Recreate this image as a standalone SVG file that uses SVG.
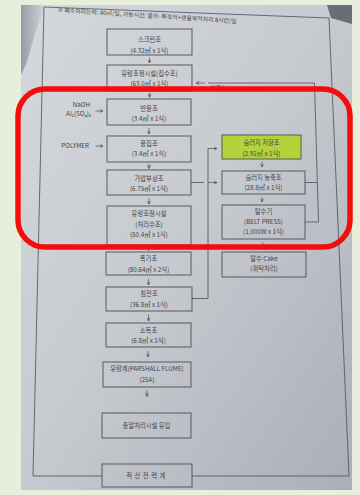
<svg xmlns="http://www.w3.org/2000/svg" width="360" height="495" viewBox="0 0 360 495">
<defs>
<linearGradient id="paper" x1="0" y1="0" x2="1" y2="1">
<stop offset="0" stop-color="#d5d8db"/>
<stop offset="0.5" stop-color="#c6c9ce"/>
<stop offset="1" stop-color="#a9afb8"/>
</linearGradient>
<linearGradient id="shade" x1="0" y1="0" x2="1" y2="0">
<stop offset="0" stop-color="#7f838a" stop-opacity="0.7"/>
<stop offset="1" stop-color="#7f838a" stop-opacity="0"/>
</linearGradient>
<marker id="ah" markerUnits="userSpaceOnUse" markerWidth="4" markerHeight="4" refX="3.5" refY="2" orient="auto">
<path d="M0,0.4 L3.5,2 L0,3.6" fill="none" stroke="#4b4e56" stroke-width="0.7"/>
</marker>
<style>
.b{fill:none;stroke:#4b4e56;stroke-width:0.9}
.g{fill:#b6d23a;stroke:#4b4e56;stroke-width:0.9}
.t{font-family:"Noto Sans CJK KR","Noto Sans",sans-serif;font-size:6.3px;fill:#41444c;text-anchor:middle}
.l{font-family:"Noto Sans CJK KR","Noto Sans",sans-serif;font-size:6.3px;fill:#41444c;text-anchor:end}
.c{fill:none;stroke:#4b4e56;stroke-width:0.8}
.a{fill:none;stroke:#4b4e56;stroke-width:0.7;marker-end:url(#ah)}
</style>
</defs>
<rect x="0" y="0" width="360" height="495" fill="#e8eedc"/>
<rect x="21" y="5" width="331" height="485" fill="url(#paper)"/>
<polygon points="21,5 46,5 36,30 27,62 21,75" fill="url(#shade)"/>
<polygon points="327,5 352,5 352,24 331,18" fill="#6a6d73"/>

<path class="c" d="M102,476 L33,476 L44,7 L329,18 L349,476 L192,476"/>
<text x="57" y="12" transform="rotate(3.6 57 12)" style="font-family:'Noto Sans CJK KR','Noto Sans',sans-serif;font-size:5.9px;fill:#41444c">※ 폐수처리능력: 40㎥/일, 가동시간: 물리·화학적+생물학적처리 8시간/일</text>

<g id="connectors">
<line class="a" x1="149.5" y1="57.5" x2="149.5" y2="63"/>
<line class="a" x1="149.5" y1="92.5" x2="149.5" y2="97.5"/>
<line class="a" x1="149" y1="128" x2="149" y2="134"/>
<line class="a" x1="149" y1="164" x2="149" y2="168.5"/>
<line class="a" x1="149" y1="198" x2="149" y2="204"/>
<line class="a" x1="148.5" y1="245.5" x2="148.5" y2="250.5"/>
<line class="a" x1="148.5" y1="279" x2="148.5" y2="285"/>
<line class="a" x1="148.5" y1="314.5" x2="148.5" y2="321"/>
<line class="a" x1="148" y1="351" x2="148" y2="357"/>
<line class="a" x1="147" y1="390.5" x2="147" y2="396.5"/>
<line class="a" x1="262" y1="161.5" x2="262" y2="167"/>
<line class="a" x1="262" y1="197" x2="262" y2="202"/>
<line class="a" x1="263" y1="242.5" x2="263" y2="248"/>
<line class="a" x1="95.5" y1="111" x2="103" y2="111"/>
<line class="a" x1="95.5" y1="146" x2="103" y2="146"/>
<polyline class="c" points="191,182.5 204,182.5"/>
<line class="a" x1="208" y1="182.5" x2="217" y2="182.5"/>
<polyline class="c" points="192,298.5 208,298.5 208,148.5"/>
<line class="a" x1="208" y1="148.5" x2="217" y2="148.5"/>
<polyline class="c" points="305,182.5 317,182.5"/>
<polyline class="c" points="305,222 318.5,222 314.5,83 208,83"/>
<line class="a" x1="205" y1="83" x2="196" y2="83"/>
<text x="210" y="90" style="font-family:'Noto Sans CJK KR','Noto Sans',sans-serif;font-size:6px;fill:#41444c">반류수</text>
</g>

<g id="n1"><rect class="b" x="107" y="29" width="85" height="26"/><text class="t" x="149.5" y="41.5">스크린조</text><text class="t" x="149.5" y="52.5">(4.32㎥ x 1식)</text></g>
<g id="n2"><rect class="b" x="107" y="65" width="85" height="26"/><text class="t" x="149.5" y="75.5">유량조정시설(집수조)</text><text class="t" x="149.5" y="86">(63.0㎥ x 1식)</text></g>
<g id="n3"><rect class="b" x="107" y="99" width="84" height="26"/><text class="t" x="149" y="110.5">반응조</text><text class="t" x="149" y="121">(3.4㎥ x 1식)</text></g>
<g id="l1"><text class="l" x="90" y="107">NaOH</text><text class="l" x="91" y="116">Al₂(SO₄)₃</text></g>
<g id="n4"><rect class="b" x="107" y="136" width="84" height="26"/><text class="t" x="149" y="145.5">응집조</text><text class="t" x="149" y="156">(3.4㎥ x 1식)</text></g>
<g id="l2"><text class="l" x="89" y="147.5">POLYMER</text></g>
<g id="n5"><rect class="b" x="107" y="170" width="84" height="25"/><text class="t" x="149" y="180.5">가압부상조</text><text class="t" x="149" y="190.5">(6.75㎥ x 1식)</text></g>
<g id="n6"><rect class="b" x="107" y="206" width="84" height="39"/><text class="t" x="149" y="215.5">유량조정시설</text><text class="t" x="149" y="226.5">(처리수조)</text><text class="t" x="149" y="237">(50.4㎥ x 1식)</text></g>
<g id="n7"><rect class="b" x="106" y="252" width="85" height="23"/><text class="t" x="148.5" y="261">폭기조</text><text class="t" x="148.5" y="271.5">(80.64㎥ x 2식)</text></g>
<g id="n8"><rect class="b" x="106" y="287" width="86" height="24"/><text class="t" x="149" y="296">침전조</text><text class="t" x="149" y="306.5">(36.8㎥ x 1식)</text></g>
<g id="n9"><rect class="b" x="106" y="323" width="85" height="24"/><text class="t" x="148.5" y="332.5">소독조</text><text class="t" x="148.5" y="343">(6.8㎥ x 1식)</text></g>
<g id="n10"><rect class="b" x="103" y="362" width="88" height="25"/><text class="t" x="147" y="371">유량계(PARSHALL FLUME)</text><text class="t" x="147" y="381.5">(25A)</text></g>
<g id="n11"><rect class="b" x="102" y="413" width="89" height="25"/><text class="t" x="146.5" y="427.5">종말처리시설 유입</text></g>
<g id="n12"><rect class="b" x="102" y="464" width="90" height="23"/><text class="t" x="147" y="478" style="letter-spacing:2.5px">적산전력계</text></g>

<g id="r1"><rect class="g" x="222" y="135" width="79" height="24"/><text class="t" x="261.5" y="145">슬러지 저장조</text><text class="t" x="261.5" y="155.5">(2.92㎥ x 1식)</text></g>
<g id="r2"><rect class="b" x="222" y="171" width="83" height="23"/><text class="t" x="263.5" y="179.5">슬러지 농축조</text><text class="t" x="263.5" y="190">(28.8㎥ x 1식)</text></g>
<g id="r3"><rect class="b" x="222" y="205" width="83" height="34"/><text class="t" x="263.5" y="213.5">탈수기</text><text class="t" x="263.5" y="223.5">(BELT PRESS)</text><text class="t" x="263.5" y="234">(1,000W x 1식)</text></g>
<g id="r4"><rect class="b" x="222" y="252" width="84" height="25"/><text class="t" x="264" y="260.5">탈수 Cake</text><text class="t" x="264" y="271">(위탁처리)</text></g>

<rect x="18" y="89" width="332" height="158" rx="27" fill="none" stroke="#f50d0d" stroke-width="5.5"/>
</svg>
